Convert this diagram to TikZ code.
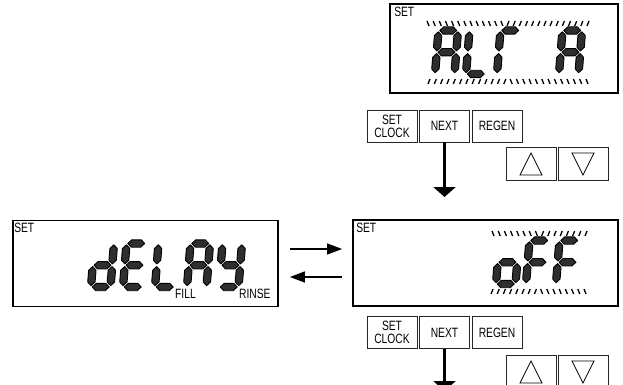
\documentclass[tikz,border=0pt]{standalone}
\usepackage{fontspec}
\newfontfamily\btnfont[FakeStretch=0.76]{Liberation Sans}
\usetikzlibrary{arrows.meta,calc}
\def\segW{19.5}
\def\segH{43.5}
\def\segG{1.3}
\def\segT{3.7}
\tikzset{
 dispbox/.style={draw=black, line width=1.8pt, inner sep=0pt},
 btn/.style={draw=black!85, line width=0.8pt, minimum width=50pt, minimum height=32pt, inner sep=0pt, font=\btnfont\fontsize{13.5}{13}\selectfont, align=center},
 keybox/.style={draw=black!85, line width=0.8pt, minimum width=50pt, minimum height=33pt, inner sep=0pt},
 lbl/.style={font=\btnfont\fontsize{13.5}{13}\selectfont, inner sep=0pt},
 segstyle/.style={fill=black!82, draw=black, line width=0.9pt, line join=round},
 tickmark/.style={line width=1.3pt, black},
 bigarrow/.style={line width=2.6pt, -{Triangle[width=22pt,length=10pt]}},
 harrow/.style={line width=1.2pt, -{Triangle[width=11pt,length=15pt]}},
 tri/.style={draw=black, line width=0.8pt},
}
% horizontal segment: x1, x2, y
\newcommand\hsg[3]{\filldraw[segstyle] ({#1},{#3}) -- ({#1+\segT},{#3+\segT}) -- ({#2-\segT},{#3+\segT}) -- ({#2},{#3}) -- ({#2-\segT},{#3-\segT}) -- ({#1+\segT},{#3-\segT}) -- cycle;}
% vertical segment: x, y1 (low), y2 (high)
\newcommand\vsg[3]{\filldraw[segstyle] ({#1},{#2}) -- ({#1+\segT},{#2+\segT}) -- ({#1+\segT},{#3-\segT}) -- ({#1},{#3}) -- ({#1-\segT},{#3-\segT}) -- ({#1-\segT},{#2+\segT}) -- cycle;}
\def\sgma{\hsg{\segG}{\segW-\segG}{\segH}}
\def\sgmb{\vsg{\segW}{\segH/2+\segG}{\segH-\segG}}
\def\sgmc{\vsg{\segW}{\segG}{\segH/2-\segG}}
\def\sgmd{\hsg{\segG}{\segW-\segG}{0}}
\def\sgme{\vsg{0}{\segG}{\segH/2-\segG}}
\def\sgmf{\vsg{0}{\segH/2+\segG}{\segH-\segG}}
\def\sgmg{\hsg{\segG}{\segW-\segG}{\segH/2}}
\newcommand\segchar[3]{%
 \begin{scope}[shift={(#1,#2)}, y=1pt, xslant=0.08]
  \foreach \s in {#3}{\csname sgm\s\endcsname}
 \end{scope}}
\newcommand\tickrow[5]{%
 \foreach \i in {1,...,#4}{%
  \pgfmathsetmacro\tx{#1+(\i-1)*(#2-#1)/(#4-1)}%
  \pgfmathsetmacro\ts{(\tx<(#1+#2)/2 ? 1 : -1)*(#5)}%
  \draw[tickmark] ({\tx-(\ts)},#3) -- ({\tx+(\ts)},{#3+5});
 }}
\begin{document}
\begin{tikzpicture}[x=1pt,y=-1pt]
\useasboundingbox (0,0) rectangle (623,385);
\clip (0,0) rectangle (623,385);
% display boxes
\node[dispbox, minimum width=228pt, minimum height=89pt] (topbox) at (504,48.5) {};
\node[dispbox, minimum width=265pt, minimum height=86pt] (rightbox) at (485.5,263) {};
\node[dispbox, minimum width=265pt, minimum height=86pt] (leftbox) at (145.5,263.5) {};
\node[lbl, anchor=north west] (settop) at ($(topbox.north west)+(5,4)$) {SET};
\node[lbl, anchor=north west] (setright) at ($(rightbox.north west)+(4,4)$) {SET};
\node[lbl, anchor=north west] (setleft) at ($(leftbox.north west)+(2,3)$) {SET};
\node[lbl, anchor=base west] (fill) at (175,298) {FILL};
\node[lbl, anchor=base west] (rinse) at (239,298) {RINSE};
% segment texts
\segchar{435}{74}{a,b,c,e,f,g}
\segchar{466}{74}{d,e,f}
\segchar{497}{74}{a,e,f}
\segchar{559}{74}{a,b,c,e,f,g}
\tickrow{428}{588}{21}{27}{1}
\tickrow{429}{587}{79}{26}{-1}
\segchar{496}{284}{c,d,e,g}
\segchar{526}{284}{a,e,f,g}
\segchar{556}{284}{a,e,f,g}
\tickrow{493}{586}{231}{16}{1}
\tickrow{492}{585}{289}{16}{-1}
\segchar{91}{287}{b,c,d,e,g}
\segchar{123}{287}{a,d,e,f,g}
\segchar{155}{287}{d,e,f}
\segchar{187}{287}{a,b,c,e,f,g}
\segchar{219}{287}{b,c,d,f,g}
% upper buttons
\node[btn] (clk1) at (392,126) {SET\\CLOCK};
\node[btn] (nxt1) at (444.5,126) {NEXT};
\node[btn] (rgn1) at (497,126) {REGEN};
\node[keybox] (up1) at (531,163.5) {};
\node[keybox] (dn1) at (583,163.5) {};
\draw[tri] ($(up1.center)+(0,-10.5)$) -- ($(up1.center)+(11,11.5)$) -- ($(up1.center)+(-11,11.5)$) -- cycle;
\draw[tri] ($(dn1.center)+(-11,-10.5)$) -- ($(dn1.center)+(11,-10.5)$) -- ($(dn1.center)+(0,11.5)$) -- cycle;
% lower buttons
\node[btn] (clk2) at (392,332.5) {SET\\CLOCK};
\node[btn] (nxt2) at (444.5,332.5) {NEXT};
\node[btn] (rgn2) at (497,332.5) {REGEN};
\node[keybox] (up2) at (531,371.5) {};
\node[keybox] (dn2) at (583,371.5) {};
\draw[tri] ($(up2.center)+(0,-10.5)$) -- ($(up2.center)+(11,11.5)$) -- ($(up2.center)+(-11,11.5)$) -- cycle;
\draw[tri] ($(dn2.center)+(-11,-10.5)$) -- ($(dn2.center)+(11,-10.5)$) -- ($(dn2.center)+(0,11.5)$) -- cycle;
% connectors
\coordinate (a1) at (444.5,197);
\coordinate (a2) at (444.5,391);
\draw[bigarrow] (nxt1.south) -- (a1);
\draw[bigarrow] (nxt2.south) -- (a2);
\coordinate (h1) at (0,249);
\coordinate (h2) at (0,277);
\draw[harrow] ($(leftbox.east |- h1)+(11,0)$) -- ($(rightbox.west |- h1)+(-10,0)$);
\draw[harrow] ($(rightbox.west |- h2)+(-10,0)$) -- ($(leftbox.east |- h2)+(11,0)$);
\end{tikzpicture}
\end{document}
